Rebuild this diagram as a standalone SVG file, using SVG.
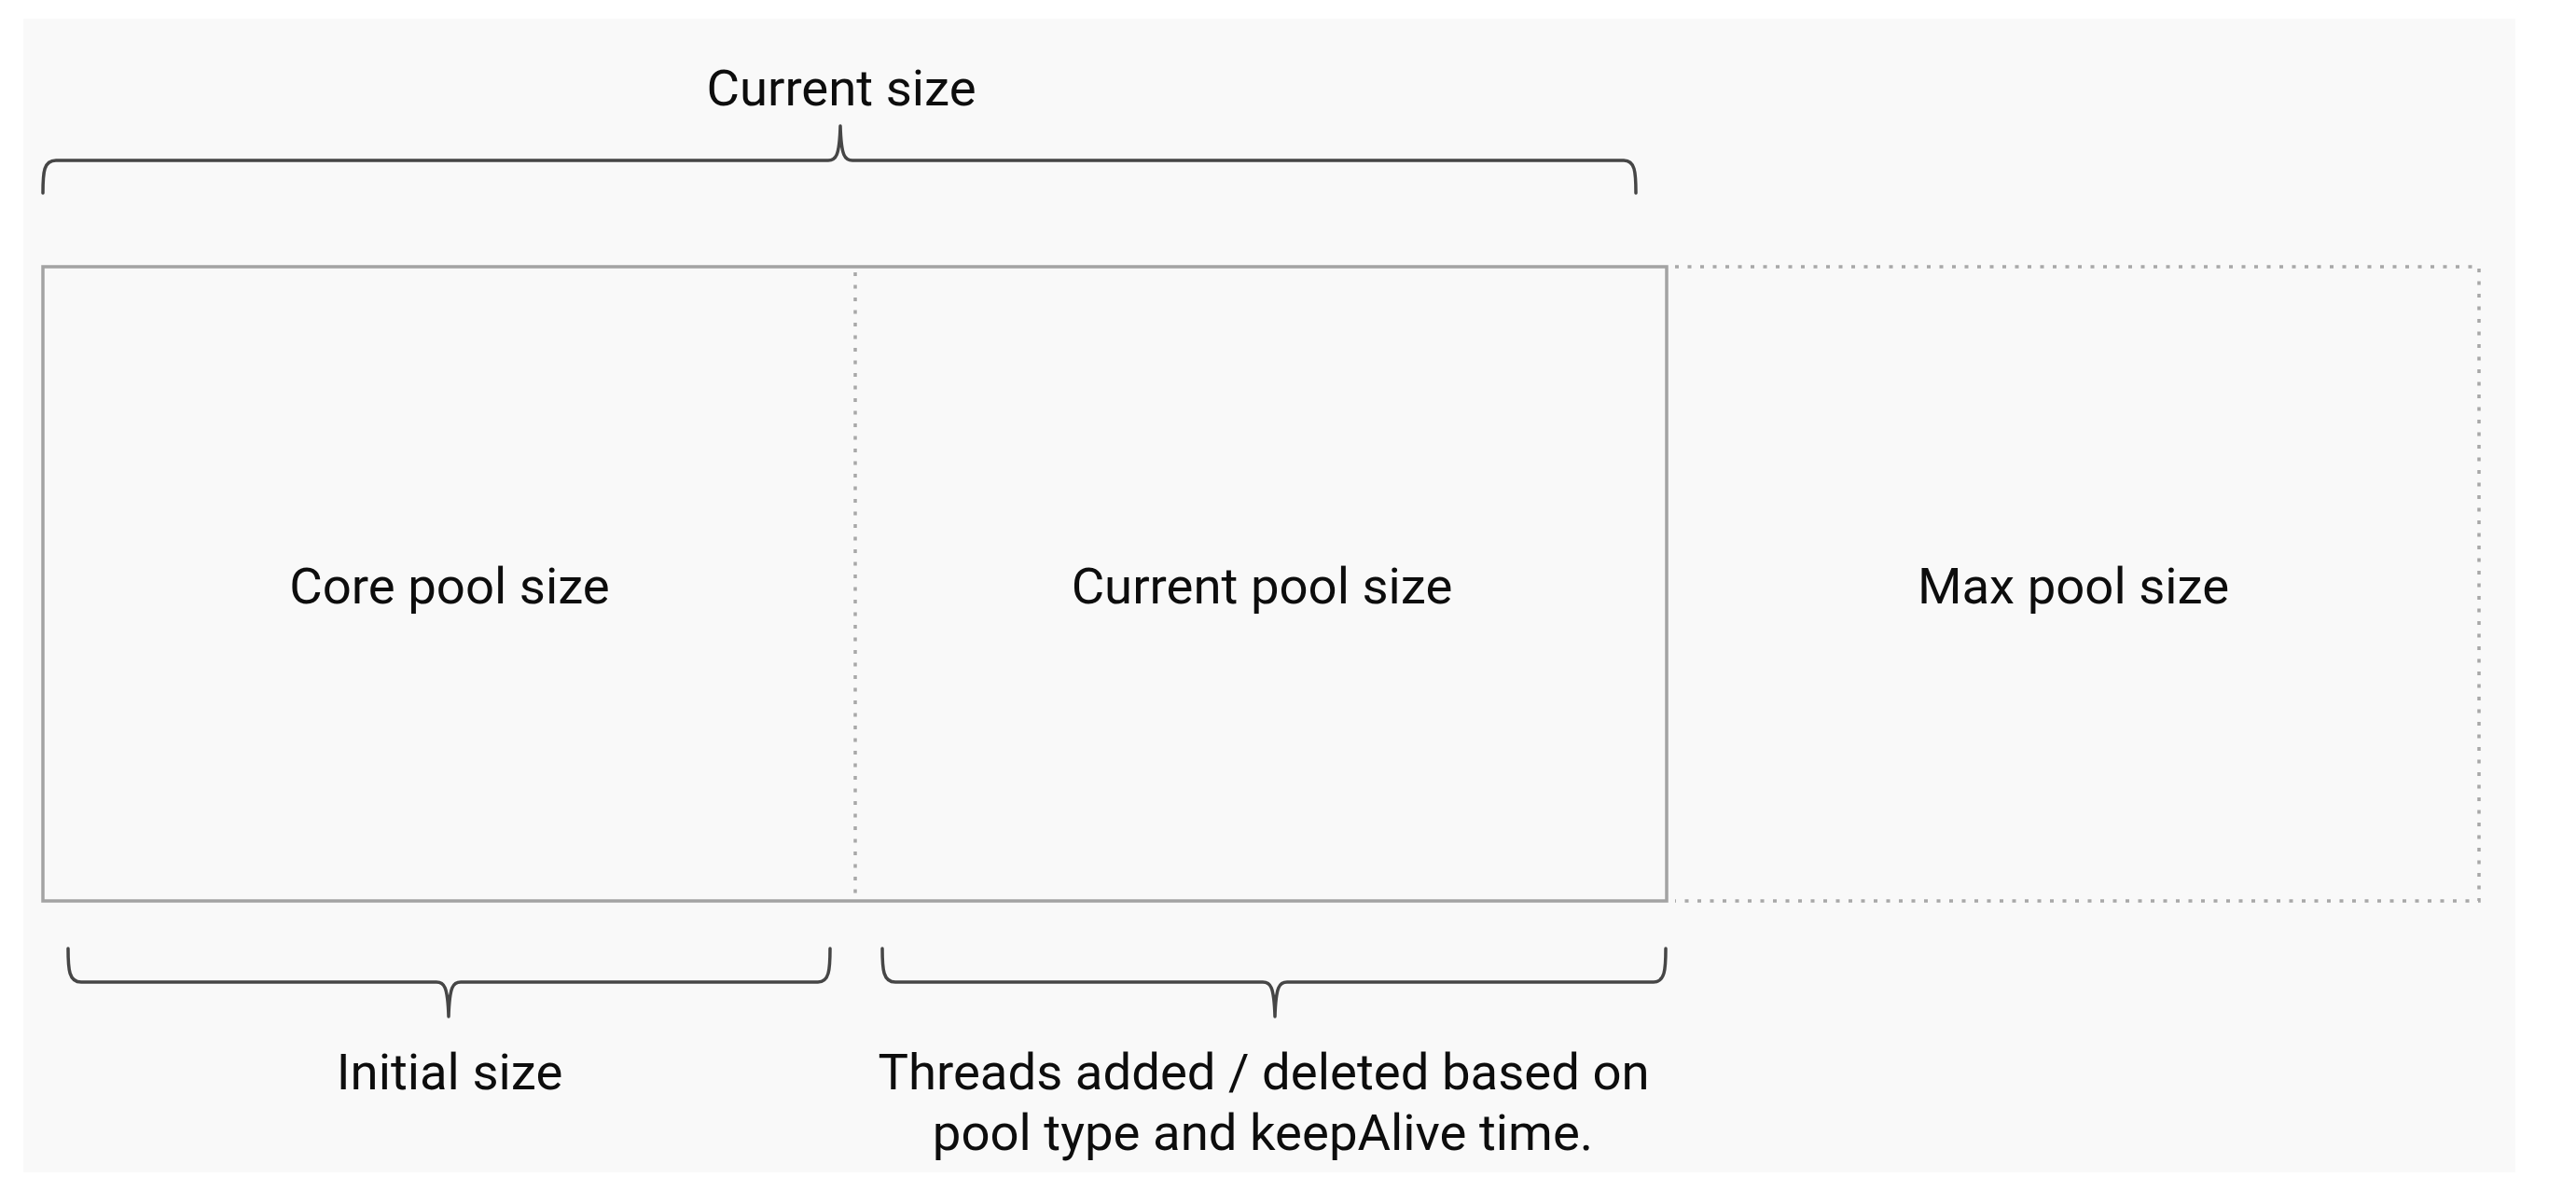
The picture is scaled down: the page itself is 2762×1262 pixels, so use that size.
<svg xmlns="http://www.w3.org/2000/svg" width="2762" height="1262" viewBox="0 0 2762 1262">
  <style>
    .lbl { font-family: Roboto, "Liberation Sans", sans-serif; font-size: 54.5px; fill: #0d0d0d; text-anchor: middle; }
    .solid { fill: none; stroke: #a3a3a3; stroke-width: 3.5; }
    .dots { fill: none; stroke: #a8a8a8; stroke-width: 3.5; stroke-dasharray: 4 9.5; }
    .brace { fill: none; stroke: #464646; stroke-width: 3.5; stroke-linejoin: round; stroke-linecap: round; }
  </style>
  <rect x="0" y="0" width="2762" height="1262" fill="#ffffff"/>
  <rect id="panel" x="25" y="20" width="2672" height="1237" fill="#f9f9f9"/>

  <g id="node-core">
    <path class="solid" d="M917,286 H46 V966 H917"/>
    <text class="lbl" x="482" y="647">Core pool size</text>
  </g>
  <g id="node-current">
    <path class="solid" d="M917,286 H1787 V966 H917"/>
    <line class="dots" x1="917" y1="292" x2="917" y2="962"/>
    <text class="lbl" x="1353" y="647">Current pool size</text>
  </g>
  <g id="node-max">
    <path class="dots" d="M1796,286 H2658 V966 H1796"/>
    <text class="lbl" x="2223" y="647">Max pool size</text>
  </g>

  <g id="connectors">
    <path class="brace" d="M46,207 C46,184 47,172 60,172 L888,172 C896,172 900,168 901,135 C902,168 906,172 914,172 L1741,172 C1753,172 1754,184 1754,207"/>
    <path class="brace" d="M73,1017 C73,1040 74,1053 87,1053 L468,1053 C476,1053 480,1057 481,1090 C482,1057 486,1053 494,1053 L877,1053 C889,1053 890,1040 890,1017"/>
    <path class="brace" d="M946,1017 C946,1040 947,1053 960,1053 L1354,1053 C1362,1053 1366,1057 1367,1090 C1368,1057 1372,1053 1380,1053 L1773,1053 C1785,1053 1786,1040 1786,1017"/>
  </g>

  <g id="label-current-size">
    <text class="lbl" x="902" y="113">Current size</text>
  </g>
  <g id="label-initial-size">
    <text class="lbl" x="482" y="1168">Initial size</text>
  </g>
  <g id="label-threads">
    <text class="lbl" x="1355" y="1168">Threads added / deleted based on</text>
    <text class="lbl" x="1354" y="1233">pool type and keepAlive time.</text>
  </g>
</svg>
